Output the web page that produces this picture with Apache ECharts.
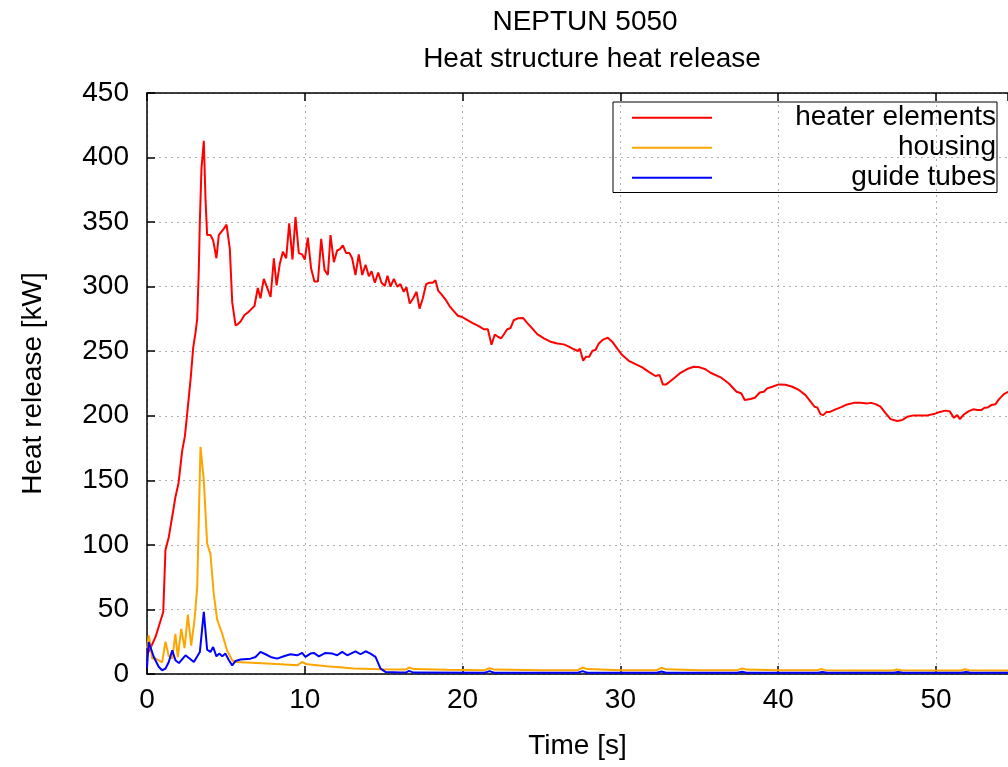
<!DOCTYPE html>
<html><head><meta charset="utf-8">
<script src="https://cdn.jsdelivr.net/npm/echarts@6/dist/echarts.min.js"></script>
<style>html,body{margin:0;padding:0;background:#fff}#c{width:1008px;height:767px}</style>
</head><body><div id="c"></div>
<script>
const titleLines = ['NEPTUN 5050', 'Heat structure heat release'];
const seriesNames = ['heater elements', 'housing', 'guide tubes'];
const xAxisName = 'Time [s]';
const yAxisName = 'Heat release [kW]';

const heaterTime = [0,0.22,0.54,0.75,1.03,1.17,1.38,1.6,1.8,2.0,2.23,2.4,2.55,2.76,2.93,3.07,3.18,3.28,3.35,3.45,3.6,3.71,3.81,4.02,4.19,4.4,4.55,4.87,5.04,5.25,5.4,5.61,5.76,5.93,6.18,6.39,6.56,6.81,7.02,7.19,7.4,7.62,7.83,8.04,8.21,8.42,8.61,8.82,9.01,9.22,9.41,9.62,9.83,10.0,10.19,10.4,10.61,10.83,11.04,11.25,11.46,11.63,11.84,12.05,12.22,12.41,12.62,12.83,13.0,13.21,13.42,13.64,13.85,14.06,14.23,14.44,14.65,14.86,15.07,15.24,15.43,15.64,15.86,16.06,16.27,16.44,16.65,16.87,17.08,17.27,17.48,17.69,17.9,18.11,18.28,18.45,18.66,18.92,19.17,19.44,19.7,19.97,20.25,20.61,21.03,21.34,21.6,21.83,22.04,22.26,22.45,22.61,22.83,23.04,23.24,23.5,23.84,24.09,24.41,24.73,25.15,25.57,26.0,26.41,26.73,27.05,27.3,27.43,27.64,27.81,28.02,28.23,28.42,28.63,28.91,29.2,29.48,29.8,30.11,30.53,30.96,31.38,31.8,32.22,32.48,32.69,32.9,33.18,33.49,33.81,34.23,34.65,35.03,35.39,35.71,36.35,36.87,37.36,37.65,37.88,38.24,38.52,38.83,39.09,39.3,39.62,40.04,40.46,40.89,41.31,41.73,42.05,42.3,42.47,42.68,42.85,43.06,43.27,43.52,43.95,44.37,44.79,45.22,45.64,45.89,46.17,46.48,46.8,47.12,47.54,47.86,48.17,48.59,49.02,49.44,49.86,50.24,50.6,50.87,51.13,51.34,51.51,51.76,52.08,52.36,52.61,52.86,53.07,53.28,53.5,53.77,53.98,54.3,54.55,54.8];
const heaterKW = [15,20,28.7,37,48,96,106,122,137,148,173,184,202,228,253,264,275,312,351,391,413,367,340,340,336,322,340,345,348,329,288,270,271,273,278,280,282,285,299,291,306,299,292,322,301,318,327,322,349,321,354,326,325,321,338,314,304,304,337,313,309,340,319,328,329,332,326,326,322,309,325,309,317,308,312,303,311,303,300.5,308.5,300,306,300,302,296,299.5,287,291,296,283,291,302,303,303,305,297,294,290,285,281,277.5,276.5,274.5,272,269.5,267,267,255,263,261,260,263,267,268,274,275.5,275.7,272,267.7,263.3,260,257.4,256,255.3,253.5,251.5,250.2,252,242.6,245.7,245.7,250.4,251,256,259,260.5,257.4,252,247,242.6,240,237.5,234,230.8,231.6,224.3,224.3,227,230,233.3,236.2,238,237.5,236,233.3,229.8,225,218.6,217.4,212.2,213,214,218,218.6,221.2,222.5,224.3,224,222.5,220,216,211,207,206.5,201.3,200.5,203,203,204.4,206.5,208.8,210,210,209.6,210,209,207,202,197.4,196,196.7,199.2,200.3,200.3,200.3,201.3,203,204,203.4,198.4,200.5,197.4,201,203.6,205,204.4,204.4,206.2,206.5,208.3,209,212.7,216.8,218.4,219.5];

const housingTime = [0,0.11,0.33,0.54,0.96,1.17,1.38,1.6,1.8,1.95,2.17,2.38,2.59,2.8,3.01,3.18,3.28,3.39,3.6,3.81,4.02,4.23,4.45,4.77,5.08,5.4,5.61,6.98,8.46,9.52,9.83,10.15,11.42,13.1,14.8,16.06,16.4,16.6,16.9,19,21.4,21.7,22.0,25,27.3,27.6,27.9,30,32.3,32.6,32.9,35,37.4,37.7,38,40,42.5,42.7,43,45,47.3,47.5,47.8,50,51.6,51.8,52.1,54.8];
const housingKW = [20,30,12,12,9,25,14,12,31,13,35,20,46,22,42,67,119,176,150,101,93,62,42,31,18,10.6,9.3,8.5,7.5,6.7,9.3,7.5,6,4.2,3.6,3.4,3.5,5,3.8,3.2,3,4.5,3.4,3,3,5,3.8,3,3,4.8,3.6,3,3,4.2,3.4,3,3,3.8,3,2.8,2.8,3.5,2.9,2.7,2.7,3.6,2.9,2.7];

const guideTime = [0,0.11,0.43,0.75,0.96,1.17,1.38,1.6,1.8,2.02,2.44,2.97,3.35,3.6,3.81,4.02,4.19,4.4,4.57,4.77,4.97,5.19,5.4,5.61,5.93,6.56,6.88,7.19,7.51,7.83,8.25,8.67,9.09,9.52,9.83,10.04,10.36,10.57,10.89,11.31,11.74,12.05,12.37,12.69,13.21,13.53,13.85,14.16,14.48,14.8,15.11,16.06,16.4,16.6,16.9,21.4,21.7,22,27.3,27.6,27.9,32.3,32.6,32.9,37.4,37.7,38,42.5,42.8,43.1,47.3,47.6,47.9,51.6,51.9,52.2,54.8];
const guideKW = [5,24.8,13.2,5.4,2.9,4.2,9.3,18.4,10.6,8.5,14.5,9.3,17.1,48.1,18.9,17.1,20.9,13.7,15.8,13.7,15.8,10.6,6.7,10.1,11.2,11.9,13.2,17.1,15.3,13.2,11.9,13.7,15.3,14.5,16.3,13.2,15.8,16.3,13.7,16.3,15.8,14.5,17.1,14.5,17.6,15.3,17.6,15.8,13.2,4.2,1.6,1.1,1.1,2.4,1.1,1,2.2,1,1,2.2,1,1,2,1,1,1.8,1,1,1.5,1,1,1.5,1,1,1.6,1,1];

const seriesColors = ['#ff0000', '#ffa500', '#0000ff'];
const xMin = 0, xMax = 54.56, xStep = 10;
const yMin = 0, yMax = 450, yStep = 50;

function pairs(t, v) { return t.map((x, i) => [x, v[i]]); }

const FONT = 'Liberation Sans';
const FS = 28;
const chart = echarts.init(document.getElementById('c'), null, {renderer: 'canvas'});
const gridDash = {color: '#b0b0b0', width: 1, type: [2, 4]};

chart.setOption({
  animation: false,
  backgroundColor: '#ffffff',
  textStyle: {fontFamily: FONT},
  title: [
    {text: titleLines[0], left: 580, top: 3, textAlign: 'center',
     textStyle: {fontFamily: FONT, fontSize: FS, fontWeight: 'normal', color: '#000'}},
    {text: titleLines[1], left: 587, top: 40, textAlign: 'center',
     textStyle: {fontFamily: FONT, fontSize: FS, fontWeight: 'normal', color: '#000'}}
  ],
  grid: {left: 147, right: 0, top: 93, bottom: 93, containLabel: false},
  legend: {
    orient: 'vertical', left: 613, top: 102,
    padding: [1, 1, 0, 19], itemGap: 0.5,
    itemWidth: 80, itemHeight: 2, icon: 'rect',
    borderColor: '#000', borderWidth: 1,
    data: seriesNames,
    formatter: n => '{r|' + n + '}',
    textStyle: {fontFamily: FONT, fontSize: FS, color: '#000', lineHeight: 29.5,
      rich: {r: {width: 279, align: 'right', fontFamily: FONT, fontSize: FS, lineHeight: 29.5, color: '#000'}}}
  },
  xAxis: [{
    type: 'value', min: xMin, max: xMax, interval: xStep,
    name: xAxisName, nameLocation: 'middle', nameGap: 58,
    nameTextStyle: {fontFamily: FONT, fontSize: FS, color: '#000'},
    axisLine: {show: true, onZero: false, lineStyle: {color: '#000', width: 1.5}},
    axisTick: {show: true, inside: true, length: 8, lineStyle: {color: '#000', width: 1.5}},
    axisLabel: {fontFamily: FONT, fontSize: FS, color: '#000', margin: 12,
      showMaxLabel: false, formatter: v => (Math.abs(v % xStep) < 1e-9 ? String(v) : '')},
    splitLine: {show: true, lineStyle: gridDash}
  }, {
    type: 'value', position: 'top', min: xMin, max: xMax, interval: xStep,
    axisLine: {show: true, onZero: false, lineStyle: {color: '#000', width: 1.5}},
    axisTick: {show: true, inside: true, length: 8, lineStyle: {color: '#000', width: 1.5}},
    axisLabel: {show: false}, splitLine: {show: false}
  }],
  yAxis: {
    type: 'value', min: yMin, max: yMax, interval: yStep,
    name: yAxisName, nameLocation: 'middle', nameGap: 100, nameRotate: 90,
    nameTextStyle: {fontFamily: FONT, fontSize: FS, color: '#000'},
    axisLine: {show: true, onZero: false, lineStyle: {color: '#000', width: 1.5}},
    axisTick: {show: true, inside: true, length: 8, lineStyle: {color: '#000', width: 1.5}},
    axisLabel: {fontFamily: FONT, fontSize: FS, color: '#000', margin: 18},
    splitLine: {show: true, lineStyle: gridDash}
  },
  series: [
    {name: seriesNames[0], type: 'line', data: pairs(heaterTime, heaterKW), symbol: 'none', color: seriesColors[0], lineStyle: {width: 2, color: seriesColors[0]}},
    {name: seriesNames[1], type: 'line', data: pairs(housingTime, housingKW), symbol: 'none', color: seriesColors[1], lineStyle: {width: 2, color: seriesColors[1]}},
    {name: seriesNames[2], type: 'line', data: pairs(guideTime, guideKW), symbol: 'none', color: seriesColors[2], lineStyle: {width: 2, color: seriesColors[2]}}
  ]
});
</script>
</body></html>
